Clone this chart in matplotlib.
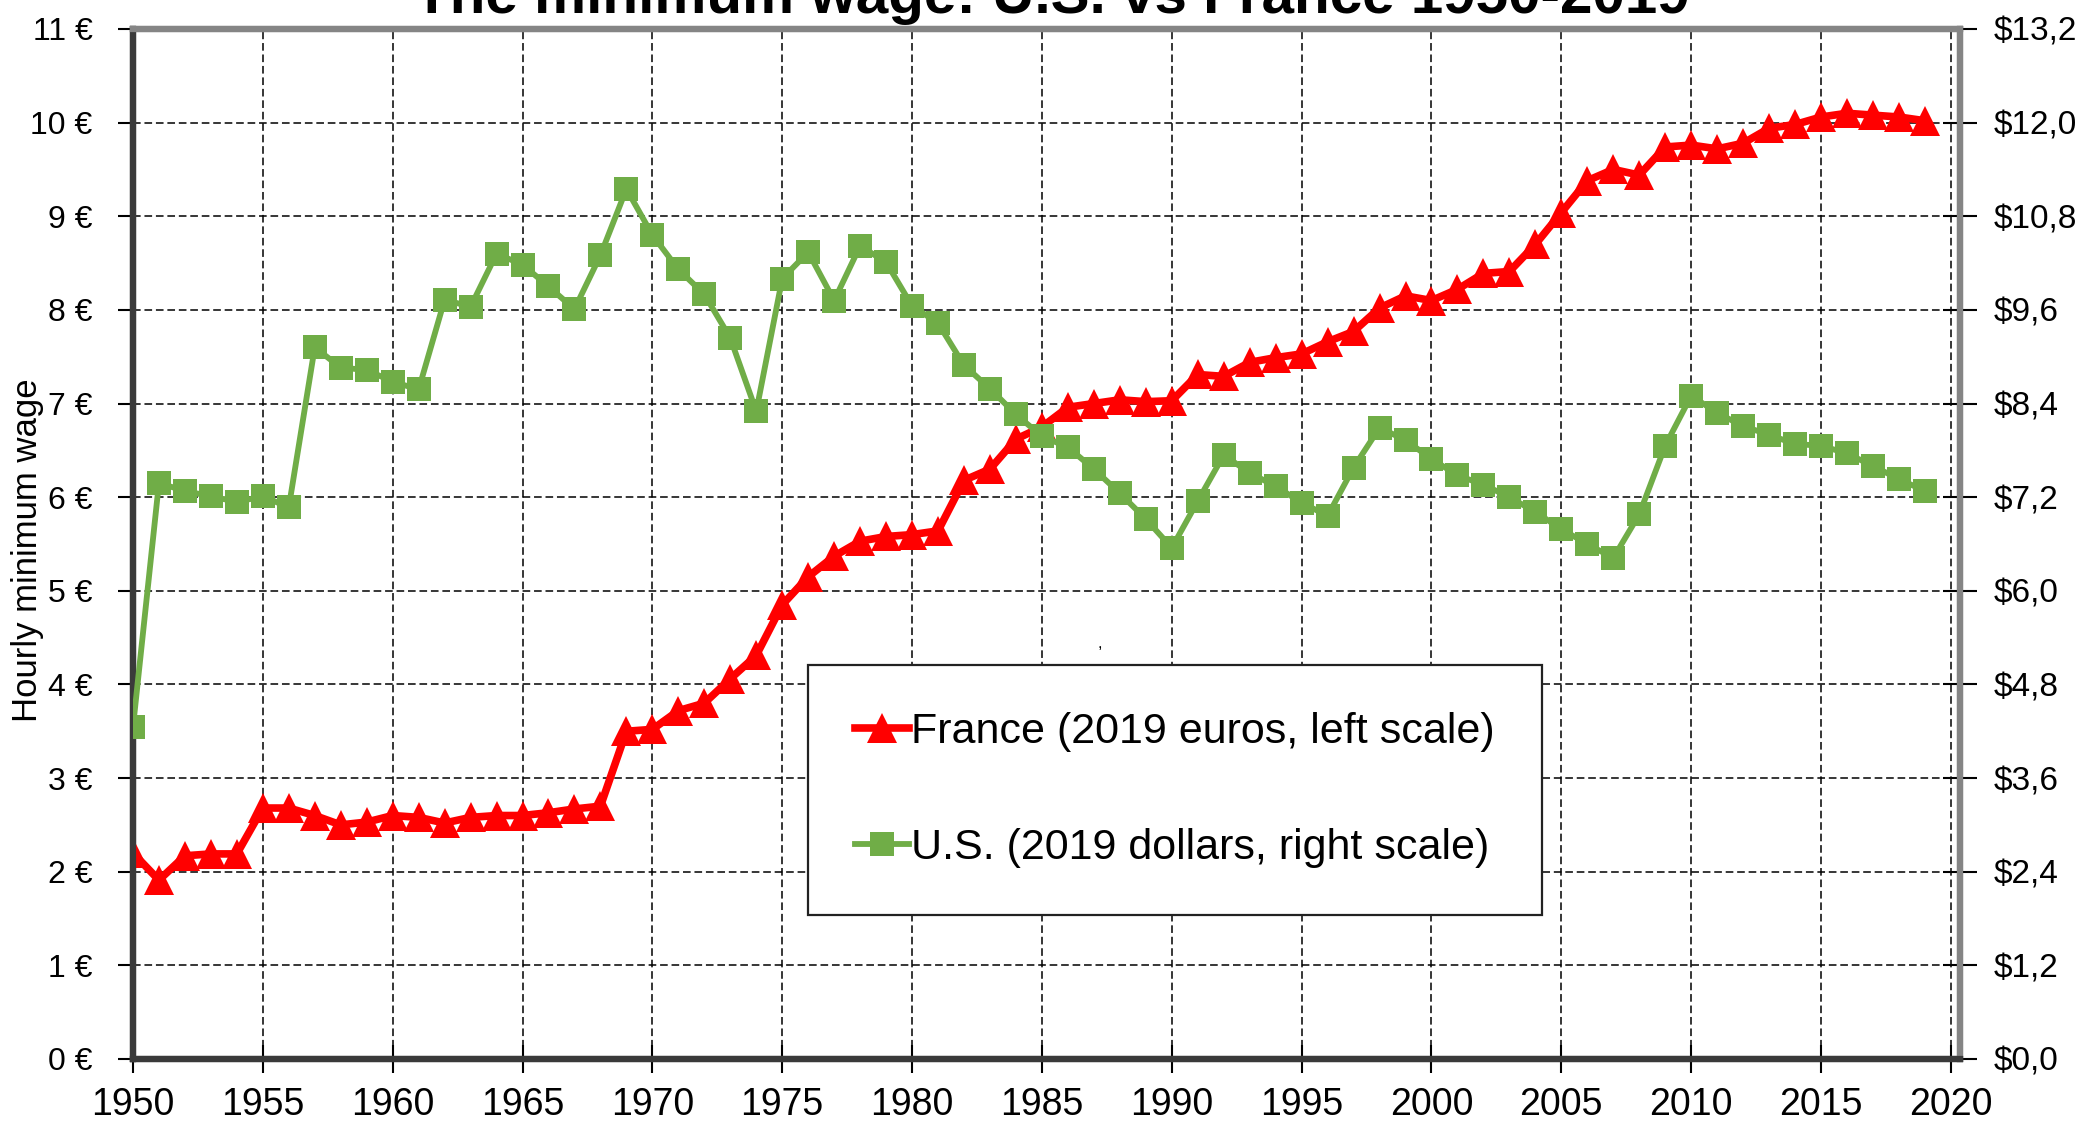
import numpy as np
import matplotlib
matplotlib.use('Agg')
import matplotlib.pyplot as plt

plt.rcParams['font.family'] = ['Liberation Sans', 'DejaVu Sans']

# Data
years = list(range(1950, 2020))

# France, 2019 euros (left scale)
france_eur = [2.20, 1.91, 2.17, 2.19, 2.19, 2.68, 2.68, 2.60, 2.50, 2.53,
              2.60, 2.58, 2.52, 2.58, 2.60, 2.60, 2.63, 2.67, 2.70, 3.50,
              3.52, 3.72, 3.80, 4.06, 4.31, 4.85, 5.15, 5.37, 5.53, 5.58,
              5.60, 5.64, 6.18, 6.30, 6.62, 6.75, 6.96, 7.00, 7.04, 7.02,
              7.03, 7.31, 7.29, 7.44, 7.49, 7.53, 7.66, 7.77, 8.02, 8.15,
              8.10, 8.22, 8.39, 8.41, 8.70, 9.04, 9.38, 9.50, 9.44, 9.74,
              9.76, 9.72, 9.78, 9.94, 9.98, 10.06, 10.10, 10.08, 10.06, 10.02]

# U.S., 2019 dollars (right scale)
us_usd = [4.25, 7.38, 7.28, 7.21, 7.14, 7.21, 7.07, 9.12, 8.86, 8.83,
          8.68, 8.58, 9.73, 9.64, 10.32, 10.18, 9.90, 9.61, 10.30, 11.15,
          10.56, 10.12, 9.80, 9.24, 8.30, 10.00, 10.34, 9.72, 10.42, 10.21,
          9.65, 9.43, 8.89, 8.59, 8.26, 7.98, 7.84, 7.56, 7.25, 6.92,
          6.55, 7.15, 7.74, 7.51, 7.34, 7.13, 6.96, 7.58, 8.09, 7.93,
          7.69, 7.48, 7.36, 7.20, 7.01, 6.79, 6.60, 6.42, 6.98, 7.86,
          8.50, 8.28, 8.11, 8.00, 7.88, 7.86, 7.76, 7.60, 7.43, 7.28]

x_ticks = list(range(1950, 2021, 5))
eur_ticks = list(range(0, 12))
usd_ticks = [1.2 * i for i in range(12)]

title = 'The minimum wage: U.S. vs France 1950-2019'
label_fr = 'France (2019 euros, left scale)'
label_us = 'U.S. (2019 dollars, right scale)'

fig = plt.figure(figsize=(20.84, 11.28), dpi=100)
ax = fig.add_axes([0.0638, 0.0612, 0.8767, 0.9131])
ax2 = ax.twinx()

ax.set_xlim(1950, 2020.35)
ax.set_ylim(0, 11)
ax2.set_ylim(0, 13.2)

# grid
ax.set_xticks(x_ticks)
ax.set_yticks(eur_ticks)
ax.grid(True, color='black', linewidth=1.1, linestyle=(0, (5, 2.5)))
ax.set_axisbelow(True)

line_fr, = ax.plot(years, france_eur, color='#ff0000', linewidth=5.5,
                   marker='^', markersize=21, markeredgewidth=0,
                   label=label_fr, zorder=3)
line_us, = ax2.plot(years, us_usd, color='#70ad47', linewidth=4.2,
                    marker='s', markersize=17, markeredgewidth=0,
                    label=label_us, zorder=3)

# tick labels
ax.set_xticklabels([str(y) for y in x_ticks], fontsize=27)
ax.set_yticklabels([f'{v} €' for v in eur_ticks], fontsize=23)
ax2.set_yticks(usd_ticks)
ax2.set_yticklabels([f'${v:.1f}'.replace('.', ',') for v in usd_ticks], fontsize=24)

ax.tick_params(axis='x', direction='inout', length=20, width=1.5, pad=10)
ax.tick_params(axis='y', direction='out', length=11, width=1.5, pad=18)
ax2.tick_params(axis='y', direction='inout', length=24, width=1.5, pad=12)

# spines
for a in (ax, ax2):
    a.spines['left'].set_color('#3a3a3a')
    a.spines['bottom'].set_color('#3a3a3a')
    a.spines['top'].set_color('#858585')
    a.spines['right'].set_color('#858585')
    for s in a.spines.values():
        s.set_linewidth(4.5)

fig.text(0.0134, 0.512, 'Hourly minimum wage', rotation=90,
         ha='center', va='center', fontsize=25)
# title sits partly above the canvas, as in the source image
fig.text(0.5045, 0.9885, title, ha='center', va='baseline',
         fontsize=42, fontweight='bold')
fig.text(1100 / 2084, 1 - 643 / 1128, ',', ha='center', va='center', fontsize=12)

leg = ax2.legend(handles=[line_fr, line_us], loc='upper left',
                 bbox_to_anchor=(808 / 2084, 1 - 665 / 1128),
                 bbox_transform=fig.transFigure, fontsize=31,
                 frameon=True, fancybox=False, shadow=False,
                 handlelength=1.25, handletextpad=0.05,
                 labelspacing=1.75, borderpad=1.1, borderaxespad=0)
leg.get_frame().set_edgecolor('#222222')
leg.get_frame().set_linewidth(1.6)
leg.get_frame().set_alpha(1)

fig.savefig('out.png', dpi=100)
